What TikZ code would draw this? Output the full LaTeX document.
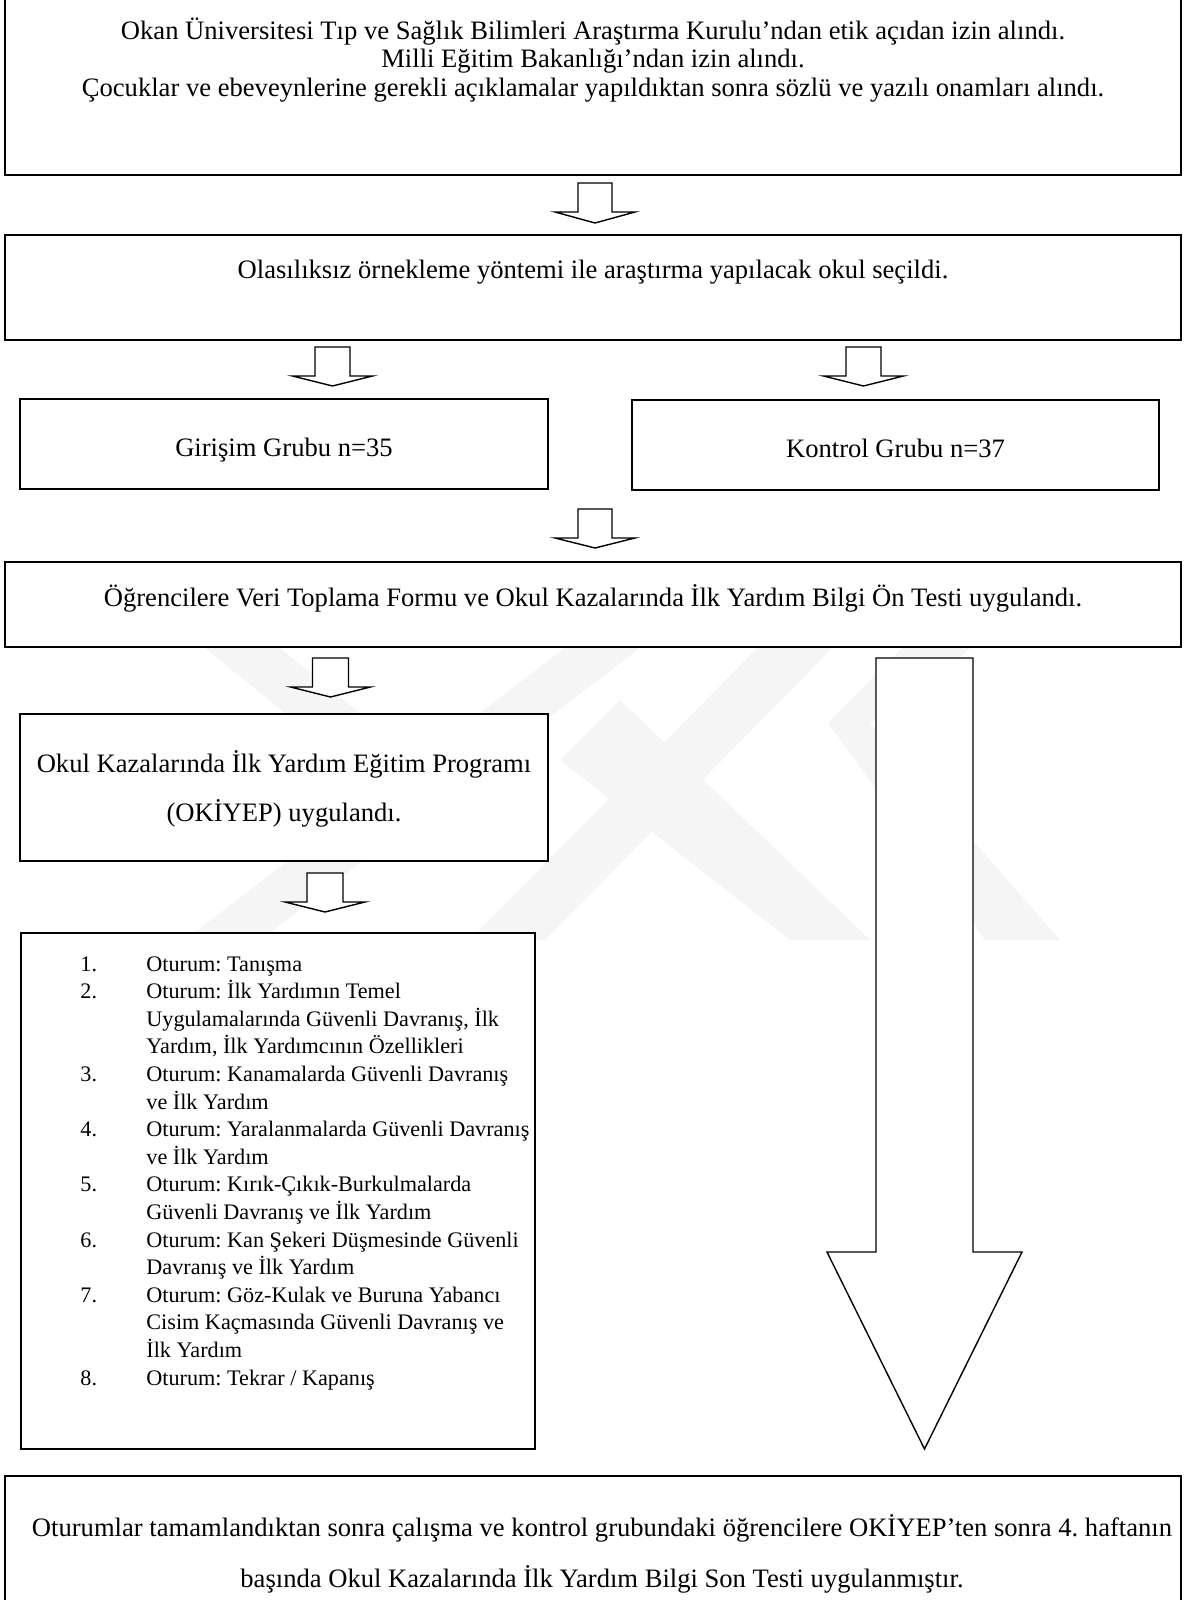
\documentclass[tikz,border=0pt]{standalone}
\usepackage{fontspec}
\setmainfont{Liberation Serif}
\frenchspacing
\begin{document}
\begin{tikzpicture}[x=0.5pt,y=-0.5pt,
  box/.style={draw=black, line width=1pt, fill=white},
  barrow/.style={draw=black, line width=0.7pt, fill=white, line join=miter},
  txt/.style={font=\fontsize{13.3pt}{15pt}\selectfont, inner sep=0pt, anchor=base},
  wm/.style={fill=black!4, draw=none}]
\useasboundingbox (0,0) rectangle (1186,1600);
\fill[white] (0,0) rectangle (1186,1600);
% faint watermark (behind everything)
\fill[wm] (195,640) -- (270,640) -- (455,790) -- (380,790) -- cycle;
\fill[wm] (575,640) -- (650,640) -- (260,940) -- (185,940) -- cycle;
\fill[wm] (765,640) -- (840,640) -- (545,940) -- (470,940) -- cycle;
\fill[wm] (560,760) -- (620,700) -- (870,940) -- (790,940) -- cycle;
\fill[wm] (905,645) -- (975,645) -- (870,723) -- (1060,940) -- (985,940) -- (828,723) -- cycle;
% boxes
\draw[box] (5,-5) rectangle (1181,175);
\draw[box] (5,235) rectangle (1181,340);
\draw[box] (20,399) rectangle (548,489);
\draw[box] (632,400) rectangle (1159,490);
\draw[box] (5,562) rectangle (1181,647);
\draw[box] (20,714) rectangle (548,861);
\draw[box] (21,933) rectangle (535,1449);
\draw[box] (5,1476) rectangle (1181,1610);
% block arrows: centre x, top, base of head, tip, shaft half, head half
\newcommand\blockarr[6]{\draw[barrow] ({#1-#5},#2) -- ({#1+#5},#2) -- ({#1+#5},#3) -- ({#1+#6},#3) -- (#1,#4) -- ({#1-#6},#3) -- ({#1-#5},#3) -- cycle;}
\blockarr{595}{183}{212}{223}{17}{40}
\blockarr{332.5}{347}{376}{386}{17.5}{40}
\blockarr{863.5}{347}{376}{386}{17.5}{40}
\blockarr{595}{509}{538}{548}{17}{40}
\blockarr{330.5}{658}{687}{697}{18}{40}
\blockarr{325}{873}{902}{912}{18}{40}
\blockarr{924.5}{658}{1252}{1449}{48.5}{97.5}
% texts
\node[txt] (t1a) at (593,40) {Okan Üniversitesi Tıp ve Sağlık Bilimleri Araştırma Kurulu’ndan etik açıdan izin alındı.};
\node[txt] (t1b) at (593,68) {Milli Eğitim Bakanlığı’ndan izin alındı.};
\node[txt] (t1c) at (593,97) {Çocuklar ve ebeveynlerine gerekli açıklamalar yapıldıktan sonra sözlü ve yazılı onamları alındı.};
\node[txt] (t2) at (593,278) {Olasılıksız örnekleme yöntemi ile araştırma yapılacak okul seçildi.};
\node[txt] (t3a) at (284,456) {Girişim Grubu n=35};
\node[txt] (t3b) at (895.5,457) {Kontrol Grubu n=37};
\node[txt] (t4) at (593,606) {Öğrencilere Veri Toplama Formu ve Okul Kazalarında İlk Yardım Bilgi Ön Testi uygulandı.};
\node[txt] (t5a) at (284,772) {Okul Kazalarında İlk Yardım Eğitim Programı};
\node[txt] (t5b) at (284,821) {(OKİYEP) uygulandı.};
\node[inner sep=0pt, anchor=base west, font=\fontsize{11.1pt}{13.8pt}\selectfont] (list) at (80,971) {%
\begin{tabular}[t]{@{}p{33pt}@{}l@{}}
1. & Oturum: Tanışma\\
2. & Oturum: İlk Yardımın Temel\\
   & Uygulamalarında Güvenli Davranış, İlk\\
   & Yardım, İlk Yardımcının Özellikleri\\
3. & Oturum: Kanamalarda Güvenli Davranış\\
   & ve İlk Yardım\\
4. & Oturum: Yaralanmalarda Güvenli Davranış\\
   & ve İlk Yardım\\
5. & Oturum: Kırık-Çıkık-Burkulmalarda\\
   & Güvenli Davranış ve İlk Yardım\\
6. & Oturum: Kan Şekeri Düşmesinde Güvenli\\
   & Davranış ve İlk Yardım\\
7. & Oturum: Göz-Kulak ve Buruna Yabancı\\
   & Cisim Kaçmasında Güvenli Davranış ve\\
   & İlk Yardım\\
8. & Oturum: Tekrar / Kapanış
\end{tabular}};
\node[txt] (t6a) at (602,1536) {Oturumlar tamamlandıktan sonra çalışma ve kontrol grubundaki öğrencilere OKİYEP’ten sonra 4. haftanın};
\node[txt] (t6b) at (602,1587) {başında Okul Kazalarında İlk Yardım Bilgi Son Testi uygulanmıştır.};
\end{tikzpicture}
\end{document}
